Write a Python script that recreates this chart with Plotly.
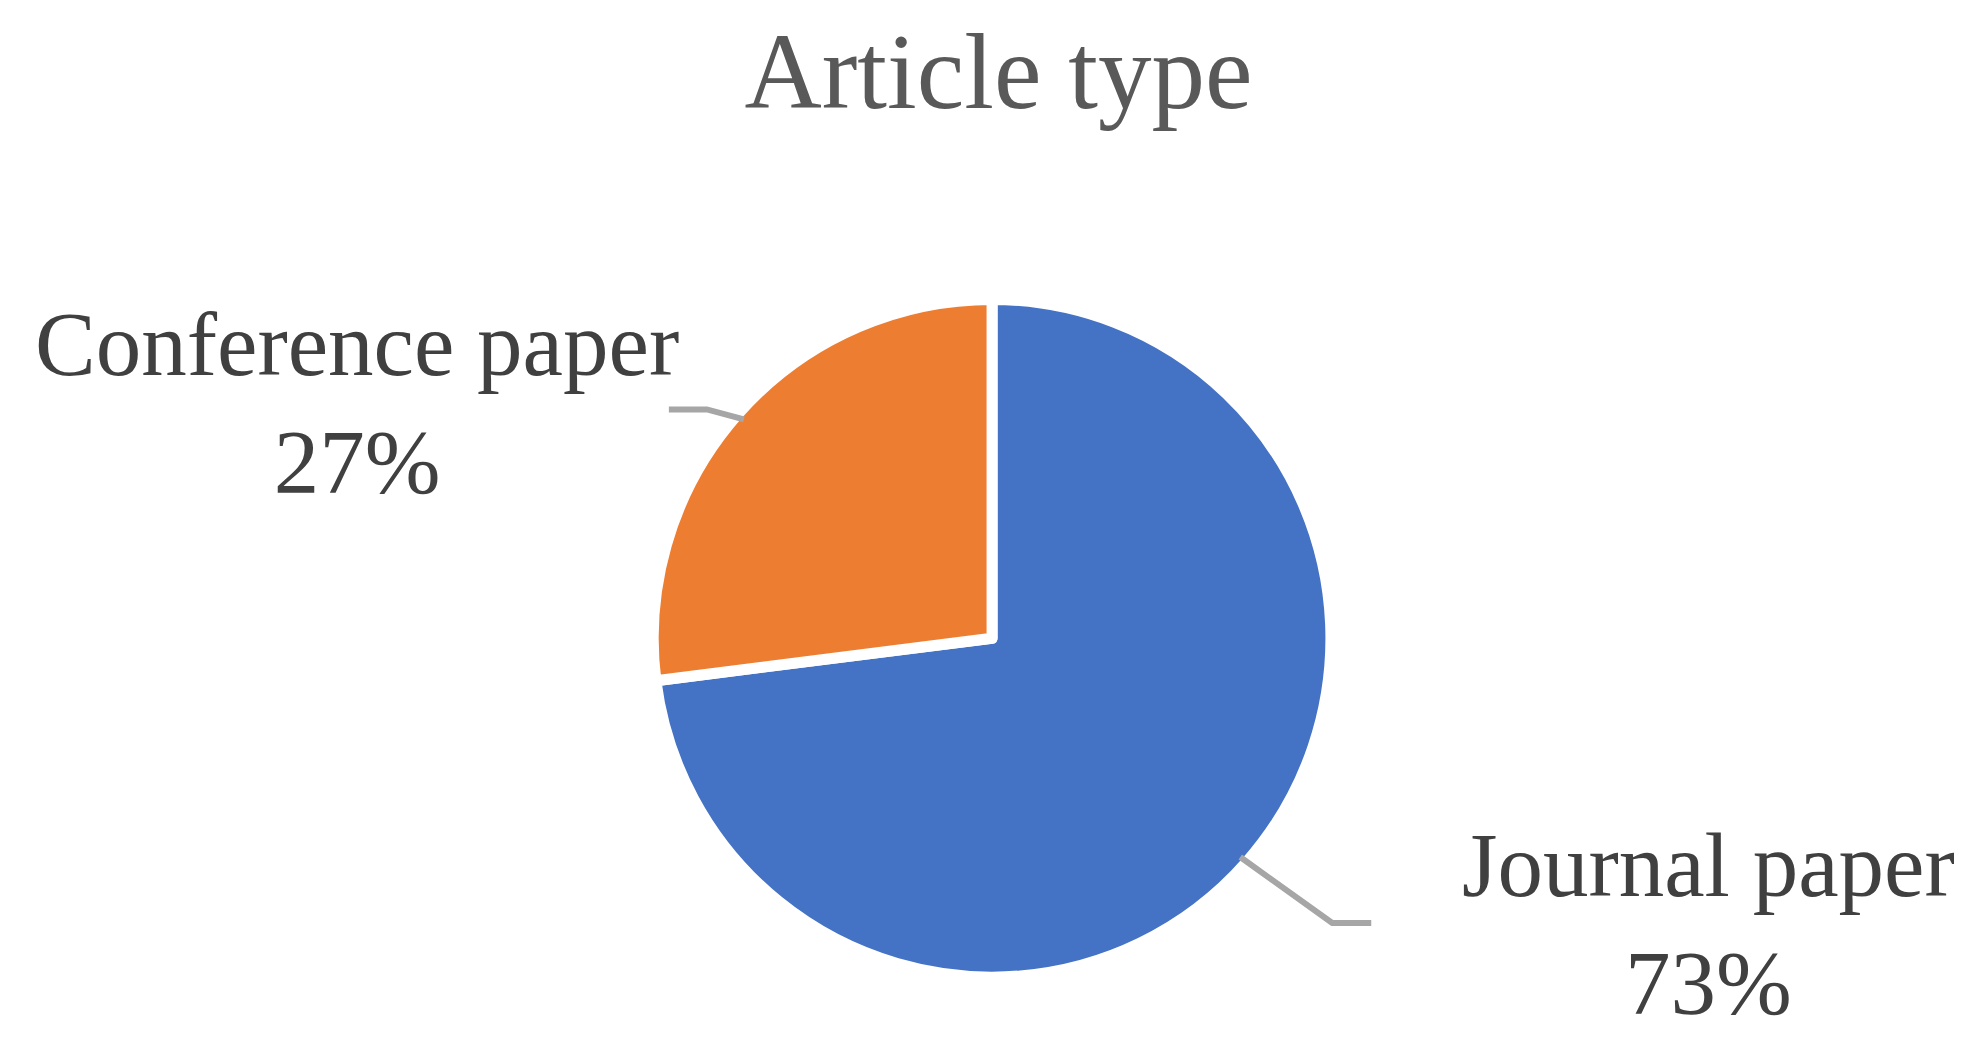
import math
import plotly.graph_objects as go

# data
labels = ["Journal paper", "Conference paper"]
values = [73, 27]
colors = ["#4472C4", "#ED7D31"]

W, H = 1981, 1048
FONT = "Liberation Serif"

# pie placement (paper coords, margins are zero)
dom_x = [0.3257, 0.6678]
dom_y = [0.0728, 0.7244]

fig = go.Figure(
    go.Pie(
        labels=labels,
        values=values,
        sort=False,
        direction="clockwise",
        rotation=0,
        marker=dict(colors=colors, line=dict(color="white", width=11)),
        textinfo="none",
        hoverinfo="label+percent",
        showlegend=False,
        domain=dict(x=dom_x, y=dom_y),
    )
)

# geometry of the pie in pixels
cx = (dom_x[0] + dom_x[1]) / 2 * W
cy = (1 - (dom_y[0] + dom_y[1]) / 2) * H
R = min((dom_x[1] - dom_x[0]) * W, (dom_y[1] - dom_y[0]) * H) / 2 - 8

# leader line bends (px offsets from anchor) and label centres (px)
bends = [((92, 66), (131, 66)), ((-37, -10), (-75, -10))]
label_pos = [(1700, 916), (349, 395)]

total = sum(values)
start = 0.0
shapes, annotations = [], []
for lab, val, bend, pos in zip(labels, values, bends, label_pos):
    frac = val / total
    mid = (start + frac / 2) * 2 * math.pi
    start += frac
    ax = cx + R * math.sin(mid)
    ay = cy - R * math.cos(mid)
    pts = [(ax, ay), (ax + bend[0][0], ay + bend[0][1]), (ax + bend[1][0], ay + bend[1][1])]
    path = " ".join(
        ("M" if i == 0 else "L") + f" {px / W:.5f},{1 - py / H:.5f}"
        for i, (px, py) in enumerate(pts)
    )
    shapes.append(dict(type="path", xref="paper", yref="paper", path=path,
                       line=dict(color="#A6A6A6", width=6)))
    annotations.append(dict(
        x=pos[0] / W, y=1 - pos[1] / H, xref="paper", yref="paper",
        xanchor="center", yanchor="middle", showarrow=False,
        text=f"{lab}<br>{round(frac * 100)}%",
        font=dict(family=FONT, size=91, color="#404040"),
    ))

fig.update_layout(
    width=W,
    height=H,
    margin=dict(l=0, r=0, t=0, b=0),
    paper_bgcolor="white",
    plot_bgcolor="white",
    title=dict(
        text="Article type",
        x=0.5, xanchor="center",
        y=1 - 63 / H, yanchor="middle",
        font=dict(family=FONT, size=107, color="#595959"),
    ),
    shapes=shapes,
    annotations=annotations,
)

fig.write_html("out.html")
